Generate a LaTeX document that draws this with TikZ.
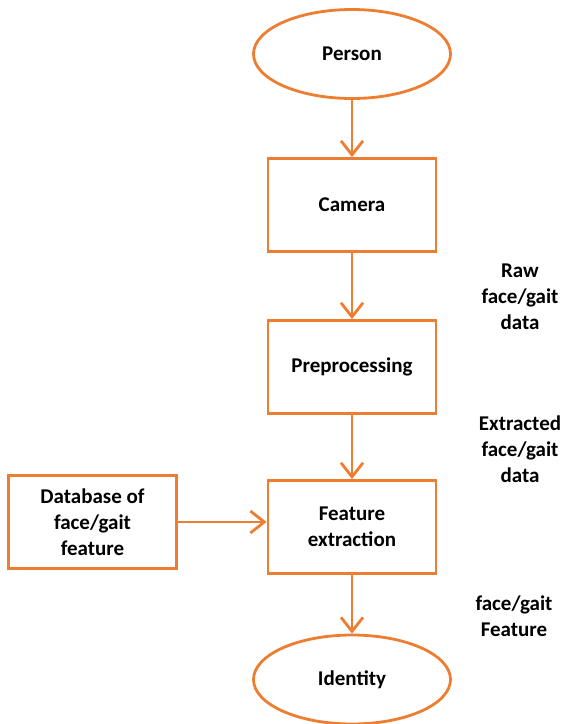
\documentclass[tikz,border=0pt]{standalone}
\usepackage{fontspec}
\setmainfont{Carlito}
\usetikzlibrary{shapes.geometric,arrows.meta}
\definecolor{flow}{HTML}{ED7D31}
\begin{document}
\begin{tikzpicture}[x=1pt,y=-1pt,
  every node/.style={font=\bfseries\fontsize{21}{26}\selectfont, align=center, text=black},
  boxnode/.style={draw=flow, line width=2.8pt, rectangle, minimum width=168pt, minimum height=93pt, inner sep=0pt},
  ovalnode/.style={draw=flow, line width=2.8pt, ellipse, minimum width=197pt, minimum height=89pt, inner sep=0pt},
  flowarrow/.style={draw=flow, line width=2.8pt, -{Straight Barb[length=14pt,width=22pt,line width=2.8pt]}},
  note/.style={inner sep=0pt}]
\useasboundingbox (0,0) rectangle (564,724);
\node[ovalnode] (person) at (352,54) {Person};
\node[boxnode] (camera) at (352,205) {Camera};
\node[boxnode] (pre) at (352,367) {Preprocessing};
\node[boxnode] (feat) at (352,527) {Feature\\extraction};
\node[boxnode] (db) at (92.5,522) {Database of\\face/gait\\feature};
\node[ovalnode] (ident) at (352,679.5) {Identity};
\node[note] (raw) at (520,297) {Raw\\face/gait\\data};
\node[note] (ext) at (520,449) {Extracted\\face/gait\\data};
\node[note] (ff) at (514,616) {face/gait\\Feature};
\draw[flowarrow] (person) -- (camera);
\draw[flowarrow] (camera) -- (pre);
\draw[flowarrow] (pre) -- (feat);
\draw[flowarrow] (feat) -- (ident);
\draw[flowarrow] (db.east) -- (db.east -| feat.west);
\end{tikzpicture}
\end{document}
